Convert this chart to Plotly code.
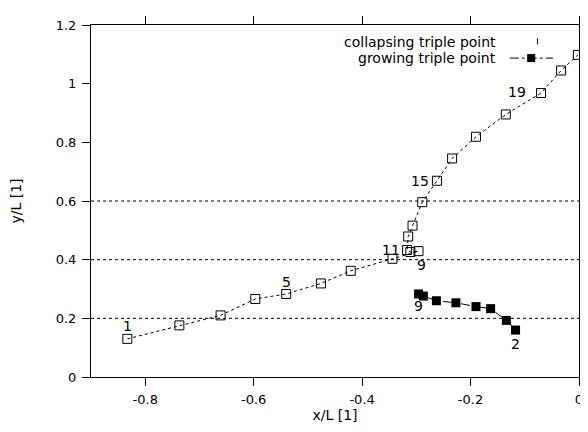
import plotly.graph_objects as go

# collapsing triple point positions (step 1..21)
collapse_x = [-0.833, -0.737, -0.661, -0.597, -0.540, -0.476, -0.421, -0.344, -0.296,
              -0.311, -0.317, -0.315, -0.307, -0.289, -0.262, -0.234, -0.190, -0.135,
              -0.070, -0.033, -0.002]
collapse_y = [0.130, 0.176, 0.210, 0.266, 0.283, 0.319, 0.362, 0.403, 0.429,
              0.426, 0.433, 0.479, 0.516, 0.596, 0.669, 0.745, 0.819, 0.895,
              0.968, 1.045, 1.098]

# growing triple point positions (step 2..9)
grow_x = [-0.117, -0.134, -0.163, -0.190, -0.227, -0.263, -0.287, -0.296]
grow_y = [0.160, 0.193, 0.233, 0.240, 0.253, 0.260, 0.276, 0.283]

# step labels: (index, text, xshift, yshift)
collapse_labels = [(0, "1", 0, 13), (4, "5", 0, 12), (8, "9", 3, -14),
                   (10, "11", -16, 0), (14, "15", -17, 0), (18, "19", -24, 1)]
grow_labels = [(7, "9", 0, -12), (0, "2", 0, -14)]

grid_levels = [0.2, 0.4, 0.6]
x_ticks = [-0.8, -0.6, -0.4, -0.2, 0]
x_ticktext = ["-0.8", "-0.6", "-0.4", "-0.2", "0"]
y_ticks = [0, 0.2, 0.4, 0.6, 0.8, 1.0, 1.2]
y_ticktext = ["0", "0.2", "0.4", "0.6", "0.8", "1", "1.2"]

FONT = "DejaVu Sans, sans-serif"

fig = go.Figure()
fig.add_trace(go.Scatter(
    x=collapse_x, y=collapse_y, mode="lines+markers", name="collapsing triple point",
    line=dict(color="black", width=1, dash="dot"),
    marker=dict(symbol="square-open", size=9, color="black", line=dict(width=1)),
    cliponaxis=False, showlegend=False))
fig.add_trace(go.Scatter(
    x=grow_x, y=grow_y, mode="lines+markers", name="growing triple point",
    line=dict(color="black", width=1, dash="dashdot"),
    marker=dict(symbol="square", size=9, color="black"),
    cliponaxis=False, showlegend=False))

shapes = []
for g in grid_levels:
    shapes.append(dict(type="line", xref="paper", yref="y", x0=0, x1=1, y0=g, y1=g,
                       line=dict(color="black", width=1, dash="dot"), layer="below"))
# legend samples (gnuplot style: text left, sample right)
shapes.append(dict(type="line", xref="paper", yref="paper", x0=0.915, x1=0.915,
                   y0=0.945, y1=0.962, line=dict(color="black", width=1)))
shapes.append(dict(type="line", xref="paper", yref="paper", x0=0.858, x1=0.947,
                   y0=0.906, y1=0.906, line=dict(color="black", width=1, dash="dashdot")))
shapes.append(dict(type="rect", xref="paper", yref="paper", xsizemode="pixel",
                   ysizemode="pixel", xanchor=0.902, yanchor=0.906, x0=-4, x1=4,
                   y0=-4, y1=4, fillcolor="black", line=dict(width=0)))

annotations = []
for i, t, dx, dy in collapse_labels:
    annotations.append(dict(x=collapse_x[i], y=collapse_y[i], text=t, showarrow=False,
                            xshift=dx, yshift=dy, font=dict(size=14, color="black", family=FONT)))
for i, t, dx, dy in grow_labels:
    annotations.append(dict(x=grow_x[i], y=grow_y[i], text=t, showarrow=False,
                            xshift=dx, yshift=dy, font=dict(size=14, color="black", family=FONT)))
annotations.append(dict(xref="paper", yref="paper", x=0.835, y=0.953, xanchor="right",
                        yanchor="middle", text="collapsing triple point", showarrow=False,
                        font=dict(size=14, color="black", family=FONT)))
annotations.append(dict(xref="paper", yref="paper", x=0.835, y=0.906, xanchor="right",
                        yanchor="middle", text="growing triple point", showarrow=False,
                        font=dict(size=14, color="black", family=FONT)))

axis_common = dict(showline=True, linecolor="black", linewidth=1, mirror="ticks",
                   ticks="outside", ticklen=8, tickcolor="black", showgrid=False,
                   zeroline=False, tickfont=dict(size=13, color="black", family=FONT))

fig.update_layout(
    width=588, height=432,
    margin=dict(l=83, r=13, t=8, b=63),
    plot_bgcolor="white", paper_bgcolor="white",
    font=dict(family=FONT, color="black"),
    shapes=shapes, annotations=annotations,
    xaxis=dict(range=[-0.9, 0], tickvals=x_ticks, ticktext=x_ticktext,
               ticklabelstandoff=2,
               title=dict(text="x/L [1]", font=dict(size=14), standoff=0), **axis_common),
    yaxis=dict(range=[0, 1.2], tickvals=y_ticks, ticktext=y_ticktext,
               ticklabelstandoff=3,
               title=dict(text="y/L [1]", font=dict(size=14), standoff=30), **axis_common),
)

fig.write_html("out.html")
